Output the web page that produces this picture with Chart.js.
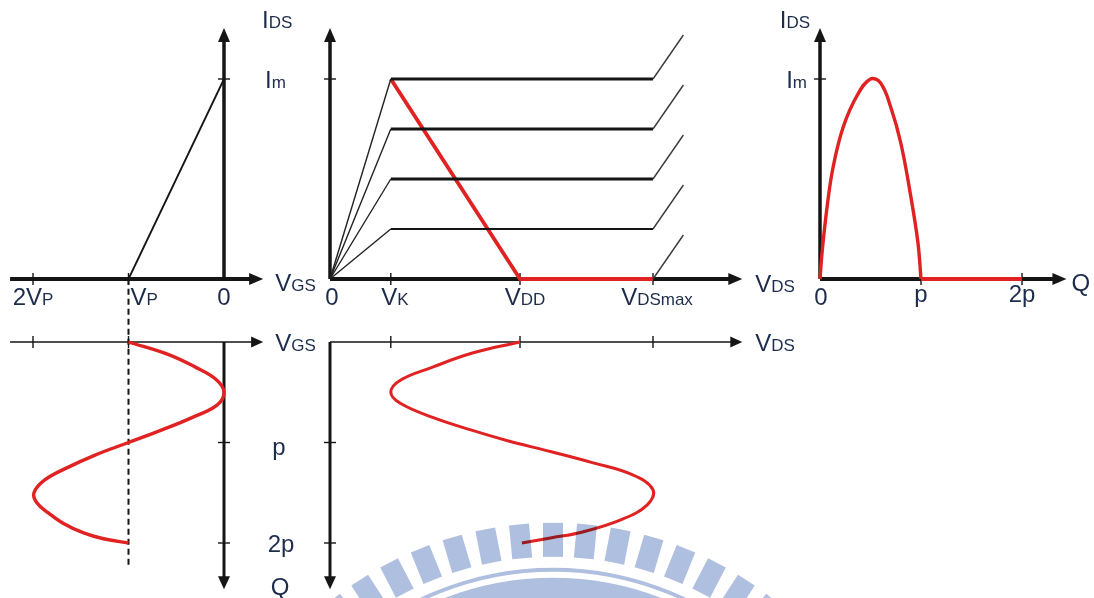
<!DOCTYPE html>
<html lang="en">
<head>
<meta charset="UTF-8">
<title>Class B waveforms</title>
<script src="https://cdn.jsdelivr.net/npm/chart.js"></script>
<style>
  html, body { margin: 0; padding: 0; background: #fff; }
  canvas { display: block; }
</style>
</head>
<body>
<canvas id="wave" width="1094" height="598"></canvas>
<script>
// ---- values ----
// VGS in units of |VP|, VDS in units of VDD, IDS in units of Im, Q in units of p
const VP = -1;
const VK = 0.32;
const VDD = 1;
const VDS_MAX = 1.7;
const IM = 1;
const ivLevels = [1, 0.75, 0.5, 0.25, 0];
const breakdown = [0.16, 0.22];          // bend after VDSmax: dVDS, dIDS
const vgsTicks = [-2, -1];
const vdsTicks = [VK, VDD, VDS_MAX];
const qTicks = [1, 2];

// drain current over one cycle (top right)
const idsQ   = [0, 0.02, 0.07, 0.13, 0.23, 0.37, 0.5, 0.6, 0.7, 0.8, 0.9, 0.97, 1.0];
const idsVal = [0, 0.13, 0.36, 0.56, 0.76, 0.92, 1.0, 0.98, 0.86, 0.68, 0.41, 0.18, 0];

// gate voltage over one cycle (bottom left)
const vgsQ   = [0, 0.125, 0.25, 0.375, 0.5, 0.625, 0.75, 0.875, 1, 1.125, 1.25, 1.375, 1.5, 1.6, 1.7, 1.8, 1.9, 1.96, 2];
const vgsVal = [-1, -0.58, -0.3, -0.08, 0, -0.07, -0.33, -0.65, -1, -1.35, -1.64, -1.88, -1.99, -1.96, -1.84, -1.69, -1.47, -1.25, -1.0];

// drain voltage over one cycle (bottom middle)
const vdsQ   = [0, 0.11, 0.25, 0.38, 0.5, 0.61, 0.75, 0.88, 0.98, 1.09, 1.2, 1.32, 1.47, 1.62, 1.77, 1.89, 1.95, 2.0];
const vdsVal = [1.0, 0.75, 0.54, 0.37, 0.32, 0.37, 0.54, 0.75, 0.93, 1.16, 1.38, 1.59, 1.7, 1.67, 1.53, 1.33, 1.16, 1.01];

// ---- layout ----
const W = 1094, H = 598;
const RED = '#e02222', INK = '#151515', TEXT = '#1d2c4c';
const BIG = '24px "Liberation Sans", Arial, sans-serif';
const SMALL = '17px "Liberation Sans", Arial, sans-serif';

// scale min/max so that value v0 lands on pixel p0 and v1 on p1
function fit(v0, p0, v1, p1, size) {
  const k = (p1 - p0) / (v1 - v0);
  const min = v0 - p0 / k;
  return { min: min, max: min + size / k };
}

const pts = (xs, ys) => xs.map((x, i) => ({ x: x, y: ys[i] }));

// axes: horizontal ones sit at y = at, vertical ones at x = at
const axes = [
  { xs: 'xg', ys: 'yi', dir: 'h', at: 0, from: -2.24, to: 0.41, w: 4, head: [14, 6], ticks: vgsTicks },
  { xs: 'xg', ys: 'yi', dir: 'v', at: 0, from: 0, to: 1.255, w: 3.5, head: [14, 6], ticks: [IM] },
  { xs: 'xv', ys: 'yi', dir: 'h', at: 0, from: 0, to: 2.17, w: 4, head: [14, 6], ticks: vdsTicks },
  { xs: 'xv', ys: 'yi', dir: 'v', at: 0, from: 0, to: 1.255, w: 3.5, head: [14, 6], ticks: [IM] },
  { xs: 'xq', ys: 'yi', dir: 'h', at: 0, from: 0, to: 2.44, w: 4, head: [14, 6], ticks: qTicks },
  { xs: 'xq', ys: 'yi', dir: 'v', at: 0, from: 0, to: 1.255, w: 3.5, head: [14, 6], ticks: [IM] },
  { xs: 'xg', ys: 'yq', dir: 'h', at: 0, from: -2.24, to: 0.41, w: 1.5, head: [12, 5.5], ticks: vgsTicks },
  { xs: 'xg', ys: 'yq', dir: 'v', at: 0, from: 0, to: 2.46, w: 3, head: [13, 6], ticks: qTicks },
  { xs: 'xv', ys: 'yq', dir: 'h', at: 0, from: 0, to: 2.17, w: 1.5, head: [12, 5.5], ticks: vdsTicks },
  { xs: 'xv', ys: 'yq', dir: 'v', at: 0, from: 0, to: 2.46, w: 3, head: [13, 6], ticks: qTicks }
];

// captions: [main, subscript], anchored on a scale value plus a pixel nudge
const captions = [
  { t: ['I', 'DS'], x: ['xg', 0], y: ['yi', 1.255], dx: 38, dy: 0, align: 'left' },
  { t: ['I', 'm'], x: ['xg', 0], y: ['yi', IM], dx: 41, dy: 9, align: 'left' },
  { t: ['V', 'GS'], x: ['xg', 0.41], y: ['yi', 0], dx: 12, dy: 12, align: 'left' },
  { t: ['2V', 'P'], x: ['xg', -2], y: ['yi', 0], dx: 0, dy: 26, align: 'center' },
  { t: ['V', 'P'], x: ['xg', VP], y: ['yi', 0], dx: 2, dy: 26, align: 'left' },
  { t: ['0', ''], x: ['xg', 0], y: ['yi', 0], dx: 0, dy: 26, align: 'center' },
  { t: ['0', ''], x: ['xv', 0], y: ['yi', 0], dx: 2, dy: 26, align: 'center' },
  { t: ['V', 'K'], x: ['xv', VK], y: ['yi', 0], dx: 4, dy: 26, align: 'center' },
  { t: ['V', 'DD'], x: ['xv', VDD], y: ['yi', 0], dx: 5, dy: 26, align: 'center' },
  { t: ['V', 'DSmax'], x: ['xv', VDS_MAX], y: ['yi', 0], dx: 4, dy: 26, align: 'center' },
  { t: ['V', 'DS'], x: ['xv', 2.17], y: ['yi', 0], dx: 13, dy: 13, align: 'left' },
  { t: ['I', 'DS'], x: ['xq', 0], y: ['yi', 1.255], dx: -10, dy: 0, align: 'right' },
  { t: ['I', 'm'], x: ['xq', 0], y: ['yi', IM], dx: -13, dy: 9, align: 'right' },
  { t: ['0', ''], x: ['xq', 0], y: ['yi', 0], dx: 1, dy: 26, align: 'center' },
  { t: ['p', ''], x: ['xq', 1], y: ['yi', 0], dx: 0, dy: 23, align: 'center' },
  { t: ['2p', ''], x: ['xq', 2], y: ['yi', 0], dx: 0, dy: 23, align: 'center' },
  { t: ['Q', ''], x: ['xq', 2.44], y: ['yi', 0], dx: 5, dy: 12, align: 'left' },
  { t: ['V', 'GS'], x: ['xg', 0.41], y: ['yq', 0], dx: 12, dy: 9, align: 'left' },
  { t: ['V', 'DS'], x: ['xv', 2.17], y: ['yq', 0], dx: 13, dy: 9, align: 'left' },
  { t: ['p', ''], x: ['xg', 0], y: ['yq', 1], dx: 55, dy: 12, align: 'center' },
  { t: ['2p', ''], x: ['xg', 0], y: ['yq', 2], dx: 57, dy: 9, align: 'center' },
  { t: ['Q', ''], x: ['xg', 0], y: ['yq', 2.46], dx: 56, dy: 6, align: 'center' }
];

function arrowHead(ctx, x0, y0, x1, y1, len, half) {
  const a = Math.atan2(y1 - y0, x1 - x0), c = Math.cos(a), s = Math.sin(a);
  ctx.beginPath();
  ctx.moveTo(x1, y1);
  ctx.lineTo(x1 - len * c + half * s, y1 - len * s - half * c);
  ctx.lineTo(x1 - len * c - half * s, y1 - len * s + half * c);
  ctx.closePath();
  ctx.fill();
}

function drawAxes(chart) {
  const ctx = chart.ctx;
  ctx.save();
  ctx.strokeStyle = INK;
  ctx.fillStyle = INK;
  axes.forEach(a => {
    const sx = chart.scales[a.xs], sy = chart.scales[a.ys];
    let x0, y0, x1, y1;
    if (a.dir === 'h') {
      y0 = y1 = sy.getPixelForValue(a.at);
      x0 = sx.getPixelForValue(a.from);
      x1 = sx.getPixelForValue(a.to);
    } else {
      x0 = x1 = sx.getPixelForValue(a.at);
      y0 = sy.getPixelForValue(a.from);
      y1 = sy.getPixelForValue(a.to);
    }
    const len = a.head[0], d = Math.hypot(x1 - x0, y1 - y0);
    ctx.lineWidth = a.w;
    ctx.beginPath();
    ctx.moveTo(x0, y0);
    ctx.lineTo(x1 - (x1 - x0) / d * (len - 2), y1 - (y1 - y0) / d * (len - 2));
    ctx.stroke();
    arrowHead(ctx, x0, y0, x1, y1, len, a.head[1]);
    // tick marks
    ctx.lineWidth = 1.4;
    a.ticks.forEach(t => {
      ctx.beginPath();
      if (a.dir === 'h') {
        const x = sx.getPixelForValue(t);
        ctx.moveTo(x, y0 - 6);
        ctx.lineTo(x, y0 + 6);
      } else {
        const y = sy.getPixelForValue(t);
        ctx.moveTo(x0 - 6, y);
        ctx.lineTo(x0 + 6, y);
      }
      ctx.stroke();
    });
  });
  ctx.restore();
}

function drawCaptions(chart) {
  const ctx = chart.ctx;
  ctx.save();
  ctx.fillStyle = TEXT;
  ctx.textAlign = 'left';
  ctx.textBaseline = 'alphabetic';
  captions.forEach(c => {
    const px = chart.scales[c.x[0]].getPixelForValue(c.x[1]) + c.dx;
    const py = chart.scales[c.y[0]].getPixelForValue(c.y[1]) + c.dy;
    ctx.font = BIG;
    const w1 = ctx.measureText(c.t[0]).width;
    ctx.font = SMALL;
    const w2 = c.t[1] ? ctx.measureText(c.t[1]).width : 0;
    let x = px;
    if (c.align === 'center') x -= (w1 + w2) / 2;
    if (c.align === 'right') x -= w1 + w2;
    ctx.font = BIG;
    ctx.fillText(c.t[0], x, py);
    if (c.t[1]) {
      ctx.font = SMALL;
      ctx.fillText(c.t[1], x + w1, py);
    }
  });
  ctx.restore();
}

// faint university seal behind the bottom of the picture
function drawSeal(chart) {
  const ctx = chart.ctx, area = chart.chartArea;
  const cx = area.left + area.width * 0.5055, cy = area.top + area.height * 1.468;
  ctx.save();
  ctx.globalCompositeOperation = 'multiply';
  ctx.fillStyle = '#afbfdf';
  for (let k = -8; k <= 8; k++) {
    ctx.save();
    ctx.translate(cx, cy);
    ctx.rotate(k * 5.5 * Math.PI / 180);
    ctx.fillRect(-10, -355, 20, 34);
    ctx.restore();
  }
  ctx.beginPath();
  ctx.arc(cx, cy, 310, 0, Math.PI * 2);
  ctx.arc(cx, cy, 240, 0, Math.PI * 2, true);
  ctx.fill();
  ctx.globalCompositeOperation = 'source-over';
  ctx.strokeStyle = '#ffffff';
  ctx.lineWidth = 6;
  ctx.beginPath();
  ctx.arc(cx, cy, 303, 0, Math.PI * 2);
  ctx.stroke();
  ctx.restore();
}

const sketch = {
  id: 'sketch',
  beforeDatasetsDraw: drawAxes,
  afterDatasetsDraw(chart) {
    drawSeal(chart);
    drawCaptions(chart);
  }
};

// output characteristics: knee, flat part, bend after VDSmax
const flatWidth = [2.8, 2.8, 2.8, 2.0];
const ivSets = ivLevels.map((lv, i) => {
  const data = lv > 0
    ? [{ x: 0, y: 0 }, { x: VK, y: lv }, { x: VDS_MAX, y: lv }, { x: VDS_MAX + breakdown[0], y: lv + breakdown[1] }]
    : [{ x: VDS_MAX, y: 0 }, { x: VDS_MAX + breakdown[0], y: breakdown[1] }];
  const widths = lv > 0 ? [1.4, flatWidth[i], 1.4] : [1.4];
  const colors = lv > 0 ? ['#222', INK, '#3a3a3a'] : ['#3a3a3a'];
  return {
    data: data, xAxisID: 'xv', yAxisID: 'yi', borderColor: INK, borderWidth: 1.4,
    segment: { borderWidth: c => widths[c.p0DataIndex], borderColor: c => colors[c.p0DataIndex] }
  };
});

const datasets = [
  // transfer characteristic
  { data: [{ x: VP, y: 0 }, { x: 0, y: IM }], xAxisID: 'xg', yAxisID: 'yi', borderColor: INK, borderWidth: 1.8 },
  ...ivSets,
  // load line and cut-off
  { data: [{ x: VK, y: IM }, { x: VDD, y: 0 }, { x: VDS_MAX, y: 0 }], xAxisID: 'xv', yAxisID: 'yi', borderColor: RED, borderWidth: 3.8 },
  // drain current
  { data: pts(idsQ, idsVal), xAxisID: 'xq', yAxisID: 'yi', borderColor: RED, borderWidth: 3.4, tension: 0.4 },
  { data: [{ x: 1, y: 0 }, { x: 2, y: 0 }], xAxisID: 'xq', yAxisID: 'yi', borderColor: RED, borderWidth: 3.8 },
  // gate drive
  { data: pts(vgsVal, vgsQ), xAxisID: 'xg', yAxisID: 'yq', borderColor: RED, borderWidth: 3.4, tension: 0.4 },
  { data: [{ x: VP, y: -0.63 }, { x: VP, y: 2.25 }], xAxisID: 'xg', yAxisID: 'yq', borderColor: INK, borderWidth: 2, borderDash: [6, 4] },
  // drain voltage
  { data: pts(vdsVal, vdsQ), xAxisID: 'xv', yAxisID: 'yq', borderColor: RED, borderWidth: 3, tension: 0.4 }
];
datasets.forEach(d => { d.pointRadius = 0; d.fill = false; d.borderJoinStyle = 'round'; });

const hidden = { type: 'linear', display: false, bounds: 'data' };

new Chart(document.getElementById('wave'), {
  type: 'line',
  data: { datasets: datasets },
  options: {
    responsive: false,
    animation: false,
    events: [],
    layout: { padding: 0, autoPadding: false },
    plugins: { legend: { display: false }, tooltip: { enabled: false } },
    scales: {
      xg: { ...hidden, axis: 'x', ...fit(-2, 33, 0, 224, W) },
      xv: { ...hidden, axis: 'x', ...fit(0, 330, 1, 520, W) },
      xq: { ...hidden, axis: 'x', ...fit(0, 820, 2, 1022, W) },
      yi: { ...hidden, axis: 'y', ...fit(0, H - 279, 1, H - 79, H) },
      yq: { ...hidden, axis: 'y', reverse: true, ...fit(0, 342, 2, 543, H) }
    }
  },
  plugins: [sketch]
});
</script>
</body>
</html>
